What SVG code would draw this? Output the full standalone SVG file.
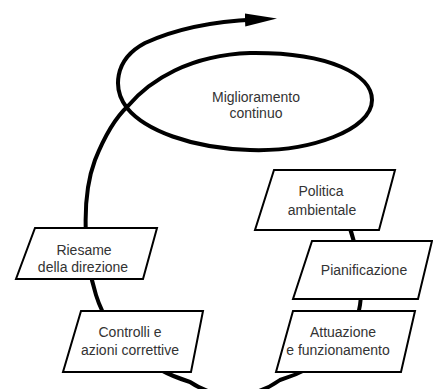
<svg xmlns="http://www.w3.org/2000/svg" width="433" height="389" viewBox="0 0 433 389">
<style>
.box{fill:#fff;stroke:#000;stroke-width:2;stroke-linejoin:miter}
.t{font-family:"Liberation Sans",Arial,sans-serif;font-size:14px;fill:#333;text-anchor:middle}
.curve{fill:none;stroke:#000;stroke-width:4;stroke-linecap:butt}
</style>
<defs>
<marker id="ah" markerUnits="userSpaceOnUse" markerWidth="32" markerHeight="16" viewBox="0 0 32 16" refX="10" refY="7.5" orient="auto">
<path d="M0,1 L32,7.5 L0,14 Z" fill="#000"/>
</marker>
</defs>
<g id="connectors">
<path class="curve" marker-end="url(#ah)" d="M 348 222 C 356 245, 364 280, 360 305 C 355 340, 320 368, 280 380 C 255 398, 220 402, 190 382 C 150 370, 110 340, 96 295 C 85 260, 80 200, 95 160 C 105 135, 115 118, 128 106 C 150 80, 190 55, 250 53 C 330 52, 372 75, 372 100 C 372 130, 310 152, 250 150 C 190 148, 145 130, 127 108 C 113 90, 113 60, 145 43 C 180 27, 220 21, 255 19.5"/>
</g>
<g id="miglioramento">
<text class="t" x="256" y="102">Miglioramento</text>
<text class="t" x="256" y="118">continuo</text>
</g>
<g id="politica">
<polygon class="box" points="274,170 395,170 379,230 255,230"/>
<text class="t" x="321" y="196">Politica</text>
<text class="t" x="322" y="215">ambientale</text>
</g>
<g id="pianificazione">
<polygon class="box" points="312,241 432,241 418,299 293,299"/>
<text class="t" x="364" y="275">Pianificazione</text>
</g>
<g id="attuazione">
<polygon class="box" points="293,311 415,311 401,372 276,372"/>
<text class="t" x="343" y="337">Attuazione</text>
<text class="t" x="338" y="355">e funzionamento</text>
</g>
<g id="riesame">
<polygon class="box" points="35,228 157,228 143,279 16,279"/>
<text class="t" x="84" y="255">Riesame</text>
<text class="t" x="83" y="272">della direzione</text>
</g>
<g id="controlli">
<polygon class="box" points="81,311 203,311 191,372 63,372"/>
<text class="t" x="130" y="337">Controlli e</text>
<text class="t" x="130" y="355">azioni correttive</text>
</g>
</svg>
